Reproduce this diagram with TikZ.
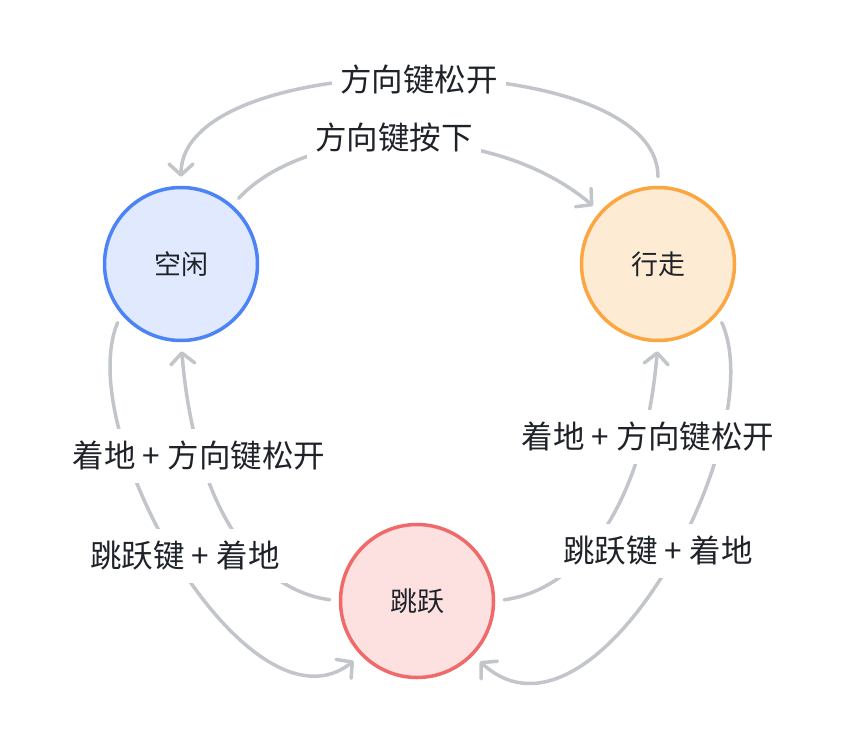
\documentclass[tikz,border=0pt]{standalone}
\usepackage{fontspec}
\setmainfont{Noto Sans CJK SC}
\usepackage{xcolor}
\usepackage{tikz}
\usetikzlibrary{arrows.meta}

\definecolor{idleline}{HTML}{4C84F7}
\definecolor{idlefill}{HTML}{E0E9FE}
\definecolor{walkline}{HTML}{FBA640}
\definecolor{walkfill}{HTML}{FEEBD4}
\definecolor{jumpline}{HTML}{F06A6A}
\definecolor{jumpfill}{HTML}{FDE1E1}
\definecolor{edgegray}{HTML}{C2C5CA}
\definecolor{textdark}{HTML}{1F2329}

\begin{document}
\begin{tikzpicture}[%
	x=1pt, y=1pt,
	state/.style={circle, line width=3.5pt, minimum size=153pt, inner sep=0pt,
		text=textdark, font=\fontsize{27}{32}\selectfont},
	trans/.style={draw=edgegray, line width=3.5pt, line cap=round,
		-{Straight Barb[length=11pt,width=24pt,round]},
		shorten <=9pt, shorten >=9pt},
	cond/.style={fill=white, text=textdark, inner xsep=8pt, inner ysep=12pt,
		font=\fontsize{31.5}{36}\selectfont}]
	\useasboundingbox (0,0) rectangle (842,740);
	\node[state, draw=idleline, fill=idlefill] (idle) at (181,476) {空闲};
	\node[state, draw=walkline, fill=walkfill] (walk) at (658,476) {行走};
	\node[state, draw=jumpline, fill=jumpfill] (jump) at (417,139) {跳跃};

	\draw[trans] (walk.90) .. controls +(0,141) and +(0,141) .. (idle.90);
	\draw[trans] (idle.49) .. controls +(78,83) and +(-106,90) .. (walk.138);
	\draw[trans] (idle.220) .. controls +(-50,-120) and +(-111,-88) .. (jump.224);
	\draw[trans] (jump.180) .. controls +(-88,12) and +(13,-157) .. (idle.270);
	\draw[trans] (jump.0) .. controls +(88,12) and +(-13,-157) .. (walk.270);
	\draw[trans] (walk.320) .. controls +(55,-120) and +(122,-112) .. (jump.316);

	\node[cond] (release) at (419,660) {方向键松开};
	\node[cond] (press) at (394,602) {方向键按下};
	\node[cond] (landleft) at (199,284) {着地 + 方向键松开};
	\node[cond] (jumpleft) at (185,184) {跳跃键 + 着地};
	\node[cond] (landright) at (648,303) {着地 + 方向键松开};
	\node[cond] (jumpright) at (658,189) {跳跃键 + 着地};
\end{tikzpicture}
\end{document}
